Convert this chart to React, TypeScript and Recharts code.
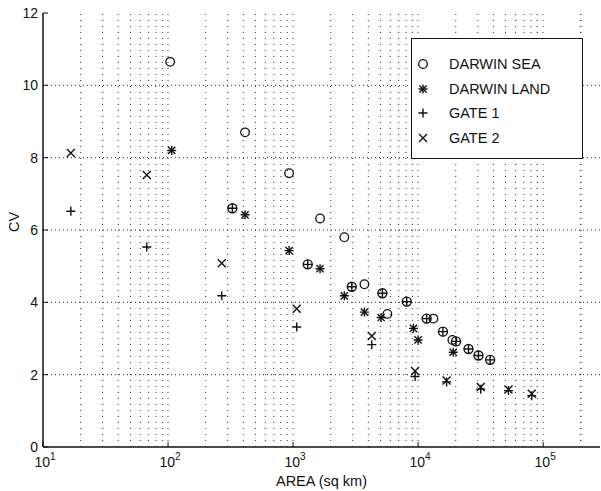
import { ScatterChart, Scatter, XAxis, YAxis, ReferenceLine } from 'recharts'

// DARWIN SEA (open circles)
const seaArea = [104, 413, 929, 1644, 2570, 3720, 5680, 13250, 18800]
const seaCv = [10.65, 8.7, 7.57, 6.32, 5.8, 4.5, 3.68, 3.55, 2.96]

// DARWIN SEA points printed with a cross through the circle
const seaCrossArea = [327, 1310, 2950, 5180, 8110, 11700, 15800, 20100, 25300, 30400, 37700]
const seaCrossCv = [6.6, 5.05, 4.43, 4.25, 4.02, 3.55, 3.19, 2.92, 2.71, 2.53, 2.41]

// DARWIN LAND (asterisks)
const landArea = [107, 413, 929, 1644, 2570, 3720, 5060, 9180, 10000, 19100]
const landCv = [8.2, 6.42, 5.43, 4.93, 4.18, 3.73, 3.58, 3.28, 2.96, 2.62]

// GATE 1 (plus)
const gate1Area = [16.7, 67.6, 269, 1070, 4260, 9460, 16900, 31700, 52800, 81100]
const gate1Cv = [6.52, 5.53, 4.18, 3.32, 2.83, 1.95, 1.8, 1.6, 1.56, 1.42]

// GATE 2 (cross)
const gate2Area = [16.7, 67.6, 269, 1070, 4260, 9460, 16900, 31700, 52800, 81100]
const gate2Cv = [8.13, 7.52, 5.08, 3.82, 3.07, 2.1, 1.84, 1.66, 1.59, 1.47]

const decadeTicks = [10, 100, 1000, 10000, 100000]
const cvTicks = [0, 2, 4, 6, 8, 10, 12]
const xMax = 285000

const minorTicks: number[] = []
decadeTicks.forEach((d) => {
  for (let m = 1; m <= 9; m++) {
    const v = d * m
    if (v > 10 && v < xMax) minorTicks.push(v)
  }
})
minorTicks.push(200000)

const pts = (xs: number[], ys: number[]) => xs.map((x, i) => ({ x, y: ys[i] }))

const INK = '#111'
const FONT = '"Liberation Sans", Arial, sans-serif'

const Ring = ({ cx, cy }: any) => (
  <circle cx={cx} cy={cy} r={4.3} fill="none" stroke={INK} strokeWidth={1.3} />
)
const PlusMark = ({ cx, cy, s = 4.5 }: any) => (
  <path d={`M${cx - s},${cy}H${cx + s}M${cx},${cy - s}V${cy + s}`} stroke={INK} strokeWidth={1.4} />
)
const CrossMark = ({ cx, cy, s = 4 }: any) => (
  <path d={`M${cx - s},${cy - s}L${cx + s},${cy + s}M${cx - s},${cy + s}L${cx + s},${cy - s}`} stroke={INK} strokeWidth={1.4} />
)
const StarMark = ({ cx, cy }: any) => (
  <g>
    <PlusMark cx={cx} cy={cy} s={4.5} />
    <CrossMark cx={cx} cy={cy} s={3.6} />
  </g>
)
const RingPlus = ({ cx, cy }: any) => (
  <g>
    <circle cx={cx} cy={cy} r={4.5} fill="none" stroke={INK} strokeWidth={1.4} />
    <PlusMark cx={cx} cy={cy} s={4.5} />
  </g>
)

const XTick = ({ x, y, payload }: any) => {
  const exp = Math.round(Math.log10(payload.value))
  return (
    <g>
      <line x1={x} x2={x} y1={y} y2={y - 5} stroke={INK} />
      <text x={x + 2} y={y + 20} textAnchor="middle" fontSize={14} fill={INK} fontFamily={FONT}>
        <tspan>10</tspan>
        <tspan dy={-7} fontSize={10}>{exp}</tspan>
      </text>
    </g>
  )
}
const TopTick = ({ x, y }: any) => <line x1={x} x2={x} y1={y} y2={y + 5} stroke={INK} />
const YTick = ({ x, y, payload }: any) => (
  <g>
    <line x1={x} x2={x + 5} y1={y} y2={y} stroke={INK} />
    <text x={x - 5} y={y + 5} textAnchor="end" fontSize={14} fill={INK} fontFamily={FONT}>
      {payload.value}
    </text>
  </g>
)
const RightTick = ({ x, y }: any) => <line x1={x} x2={x - 5} y1={y} y2={y} stroke={INK} />

const legendRows = [
  { name: 'DARWIN SEA', Mark: Ring },
  { name: 'DARWIN LAND', Mark: StarMark },
  { name: 'GATE 1', Mark: PlusMark },
  { name: 'GATE 2', Mark: CrossMark },
]

export default function App() {
  return (
    <div style={{ position: 'absolute', left: 0, top: 0, width: 601, height: 491, background: '#fff' }}>
      <ScatterChart width={601} height={491} margin={{ top: 13, right: 1, bottom: 0, left: 0 }}>
        <XAxis
          type="number"
          dataKey="x"
          scale="log"
          domain={[10, xMax]}
          allowDataOverflow
          ticks={decadeTicks}
          interval={0}
          height={44}
          tickSize={0}
          tickMargin={0}
          tick={<XTick />}
          axisLine={{ stroke: INK, strokeWidth: 1.5 }}
          label={{ value: 'AREA (sq km)', position: 'insideBottom', offset: 5, fill: INK, fontSize: 14.5, fontFamily: FONT }}
        />
        <XAxis
          xAxisId="top"
          orientation="top"
          type="number"
          scale="log"
          domain={[10, xMax]}
          allowDataOverflow
          ticks={decadeTicks}
          interval={0}
          height={0}
          tickSize={0}
          tickMargin={0}
          tick={<TopTick />}
          axisLine={{ stroke: INK, strokeWidth: 1.2 }}
        />
        <YAxis
          type="number"
          dataKey="y"
          domain={[0, 12]}
          ticks={cvTicks}
          interval={0}
          width={43}
          tickSize={0}
          tickMargin={0}
          tick={<YTick />}
          axisLine={{ stroke: INK, strokeWidth: 1.5 }}
          label={{
            content: () => (
              <text transform="translate(14,222) rotate(-90)" textAnchor="middle" y={5} fontSize={14.5} fill={INK} fontFamily={FONT}>
                CV
              </text>
            ),
          }}
        />
        <YAxis
          yAxisId="right"
          orientation="right"
          type="number"
          domain={[0, 12]}
          ticks={cvTicks}
          interval={0}
          width={0}
          tickSize={0}
          tickMargin={0}
          tick={<RightTick />}
          axisLine={{ stroke: INK, strokeWidth: 1.2 }}
        />
        {minorTicks.map((v) => (
          <ReferenceLine key={'v' + v} x={v} stroke="#333" strokeDasharray="1 5" strokeWidth={1} />
        ))}
        {cvTicks.slice(1, -1).map((v) => (
          <ReferenceLine key={'h' + v} y={v} stroke="#333" strokeDasharray="1 3" strokeWidth={1} />
        ))}
        <Scatter name="DARWIN SEA" data={pts(seaArea, seaCv)} shape={<Ring />} isAnimationActive={false} />
        <Scatter name="DARWIN SEA +" data={pts(seaCrossArea, seaCrossCv)} shape={<RingPlus />} legendType="none" isAnimationActive={false} />
        <Scatter name="DARWIN LAND" data={pts(landArea, landCv)} shape={<StarMark />} isAnimationActive={false} />
        <Scatter name="GATE 1" data={pts(gate1Area, gate1Cv)} shape={<PlusMark />} isAnimationActive={false} />
        <Scatter name="GATE 2" data={pts(gate2Area, gate2Cv)} shape={<CrossMark />} isAnimationActive={false} />
      </ScatterChart>
      <div
        style={{
          position: 'absolute',
          left: 411,
          top: 38,
          width: 170,
          height: 119,
          border: '1.5px solid #111',
          background: '#fff',
          fontFamily: FONT,
          fontSize: 14.5,
          color: INK,
        }}
      >
        {legendRows.map(({ name, Mark }, i) => (
          <div key={name} style={{ position: 'absolute', left: 0, top: 15 + i * 24.7, height: 20, display: 'flex', alignItems: 'center' }}>
            <svg width={30} height={20} style={{ display: 'block' }}>
              <Mark cx={11} cy={10} />
            </svg>
            <span style={{ marginLeft: 7, whiteSpace: 'nowrap' }}>{name}</span>
          </div>
        ))}
      </div>
    </div>
  )
}
